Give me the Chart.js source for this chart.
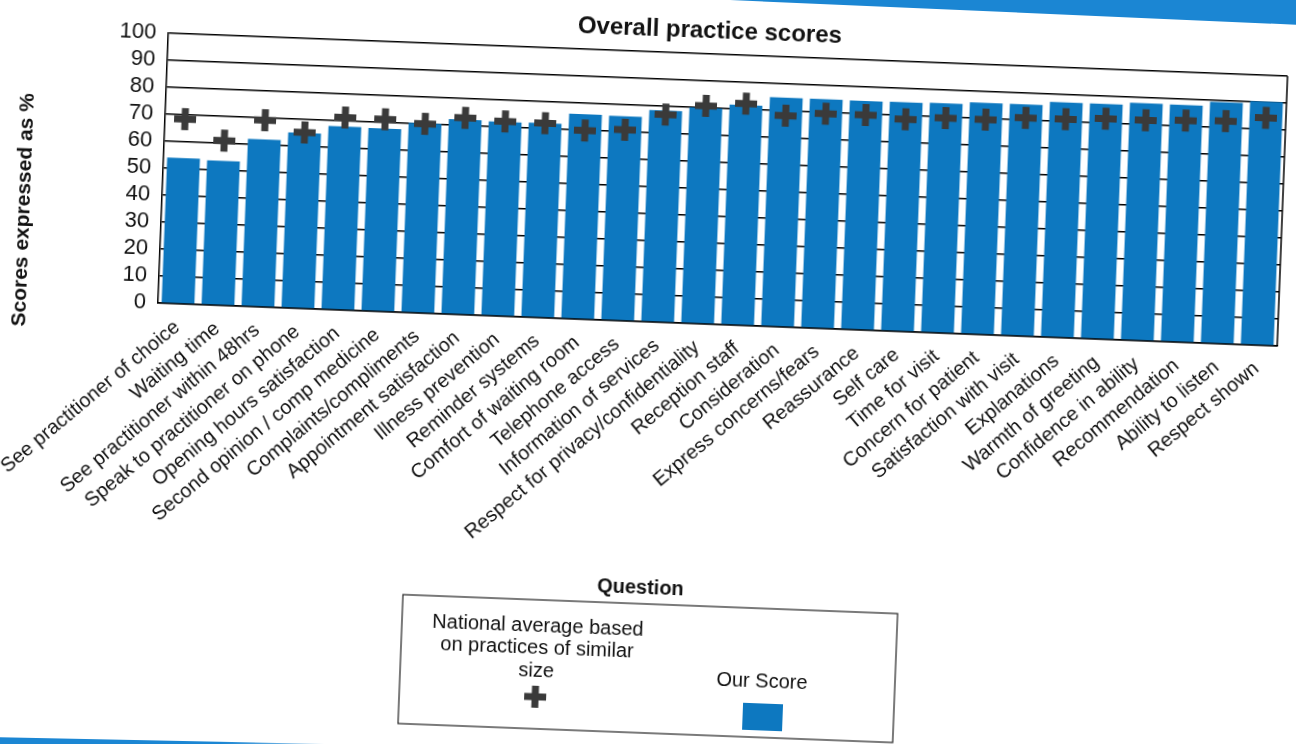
<!DOCTYPE html>
<html>
<head>
<meta charset="utf-8">
<title>Overall practice scores</title>
<script src="https://cdn.jsdelivr.net/npm/chart.js@4.4.1/dist/chart.umd.min.js"></script>
<style>
    html, body { margin: 0; padding: 0; background: #fff; overflow: hidden; }
    body { width: 1296px; height: 744px; position: relative; }
    #sheet {
        position: absolute; left: 0; top: -40px; width: 1296px; height: 800px;
        transform: rotate(2.2deg); transform-origin: 158px 343px;
    }
    #bandTop {
        position: absolute; left: 730px; top: -60px; width: 700px; height: 60px;
        background: #1b86d3; transform: rotate(2.5deg); transform-origin: 0 100%;
    }
    #bandBottom {
        position: absolute; left: -10px; top: 737px; width: 420px; height: 30px;
        background: linear-gradient(to right, #1b86d3 55%, rgba(27,134,211,0));
        transform: rotate(1.2deg); transform-origin: 0 0;
    }
</style>
</head>
<body>
<div id="bandTop"></div>
<div id="bandBottom"></div>
<div id="sheet"><canvas id="chart" width="1296" height="800"></canvas></div>
<script>
const questions = [
    "See practitioner of choice",
    "Waiting time",
    "See practitioner within 48hrs",
    "Speak to practitioner on phone",
    "Opening hours satisfaction",
    "Second opinion / comp medicine",
    "Complaints/compliments",
    "Appointment satisfaction",
    "Illness prevention",
    "Reminder systems",
    "Comfort of waiting room",
    "Telephone access",
    "Information of services",
    "Respect for privacy/confidentiality",
    "Reception staff",
    "Consideration",
    "Express concerns/fears",
    "Reassurance",
    "Self care",
    "Time for visit",
    "Concern for patient",
    "Satisfaction with visit",
    "Explanations",
    "Warmth of greeting",
    "Confidence in ability",
    "Recommendation",
    "Ability to listen",
    "Respect shown"
];

const ourScore = [54, 53.5, 62, 65, 68, 67.8, 70.3, 72.2, 71.9, 72, 75.9, 75.7, 78.4, 80,
    81.6, 84.9, 84.9, 84.8, 84.9, 85.1, 85.8, 85.8, 87.1, 87.1, 88, 87.9, 89.4, 90.3];

const nationalAverage = [68.4, 61, 69.2, 65.2, 71.3, 71.2, 70.1, 72.9, 72.1, 72, 69.9, 70.7, 76.9, 80.7,
    82.1, 78.2, 79.5, 79.6, 78.6, 79.6, 79.6, 80.8, 80.9, 81.7, 81.7, 82.1, 82.5, 84.3];

const yTicks = [0, 10, 20, 30, 40, 50, 60, 70, 80, 90, 100];

const chartTitle = "Overall practice scores";
const yTitle = "Scores expressed as %";
const xTitle = "Question";
const nationalLabel = ["National average based", "on practices of similar", "size"];
const scoreLabel = "Our Score";

const barColor = "#0d78c0";
const crossColor = "#3a3a3a";

Chart.defaults.font.family = "'Liberation Sans', Arial, sans-serif";
Chart.defaults.color = "#000";

// titles and the boxed legend are laid out like the printed report
const decorations = {
    id: 'decorations',
    afterDraw(chart) {
        const ctx = chart.ctx;
        const area = chart.chartArea;
        ctx.save();

        ctx.strokeStyle = '#000';
        ctx.lineWidth = 1.5;
        ctx.beginPath();
        ctx.moveTo(area.right, area.top);
        ctx.lineTo(area.right, area.bottom);
        ctx.stroke();

        ctx.fillStyle = '#111';
        ctx.textAlign = 'center';
        ctx.textBaseline = 'middle';
        ctx.font = "bold 24px 'Liberation Sans', Arial, sans-serif";
        ctx.fillText(chartTitle, 699, 50);

        ctx.font = "bold 20px 'Liberation Sans', Arial, sans-serif";
        ctx.fillText(xTitle, 651, 609);

        ctx.save();
        ctx.translate(20, 255);
        ctx.rotate(-Math.PI / 2);
        ctx.font = "bold 21px 'Liberation Sans', Arial, sans-serif";
        ctx.fillText(yTitle, 0, 0);
        ctx.restore();

        // legend box
        const lx = 414, ly = 625, lw = 495, lh = 129;
        ctx.fillStyle = '#fff';
        ctx.fillRect(lx, ly, lw, lh);
        ctx.lineWidth = 1.2;
        ctx.strokeStyle = '#222';
        ctx.strokeRect(lx, ly, lw, lh);

        ctx.fillStyle = '#111';
        ctx.font = "20px 'Liberation Sans', Arial, sans-serif";
        nationalLabel.forEach((line, i) => {
            ctx.fillText(line, lx + 136, ly + 26 + i * 22.5);
        });
        ctx.fillText(scoreLabel, lx + 362, ly + 73);

        const cx = lx + 136, cy = ly + 97;
        ctx.fillStyle = crossColor;
        ctx.fillRect(cx - 11, cy - 3.5, 22, 7);
        ctx.fillRect(cx - 3.5, cy - 11, 7, 22);

        ctx.fillStyle = barColor;
        ctx.fillRect(lx + 344, ly + 95, 40, 27);

        ctx.restore();
    }
};

const ctx = document.getElementById("chart").getContext("2d");
const chart = new Chart(ctx, {
    type: 'bar',
    data: {
        labels: questions,
        datasets: [{
            type: 'line',
            label: nationalLabel.join(' '),
            data: nationalAverage,
            showLine: false,
            pointStyle: 'cross',
            pointRadius: 11,
            pointHoverRadius: 11,
            pointBorderWidth: 7,
            pointHoverBorderWidth: 7,
            borderColor: crossColor,
            backgroundColor: crossColor,
            order: 0
        }, {
            type: 'bar',
            label: scoreLabel,
            data: ourScore,
            backgroundColor: barColor,
            barPercentage: 0.82,
            categoryPercentage: 1,
            order: 1
        }]
    },
    options: {
        responsive: false,
        animation: false,
        layout: { padding: { left: 0, top: 73, right: 5, bottom: 197 } },
        plugins: {
            legend: { display: false },
            tooltip: { enabled: false }
        },
        scales: {
            x: {
                grid: { display: false },
                border: { color: '#000', width: 1.5 },
                ticks: {
                    autoSkip: false,
                    minRotation: 42,
                    maxRotation: 42,
                    padding: 4,
                    color: '#111',
                    font: { size: 20 }
                },
                afterFit: function(scale) { scale.height = 260; }
            },
            y: {
                min: yTicks[0],
                max: yTicks[yTicks.length - 1],
                afterBuildTicks: function(scale) {
                    scale.ticks = yTicks.map(v => ({ value: v }));
                },
                grid: { color: '#000', lineWidth: 1.5, drawTicks: false },
                border: { color: '#000', width: 1.5 },
                ticks: { autoSkip: false, padding: 12, color: '#111', font: { size: 22, lineHeight: 1 } },
                afterFit: function(scale) { scale.width = 158; }
            }
        }
    },
    plugins: [decorations]
});
</script>
</body>
</html>
